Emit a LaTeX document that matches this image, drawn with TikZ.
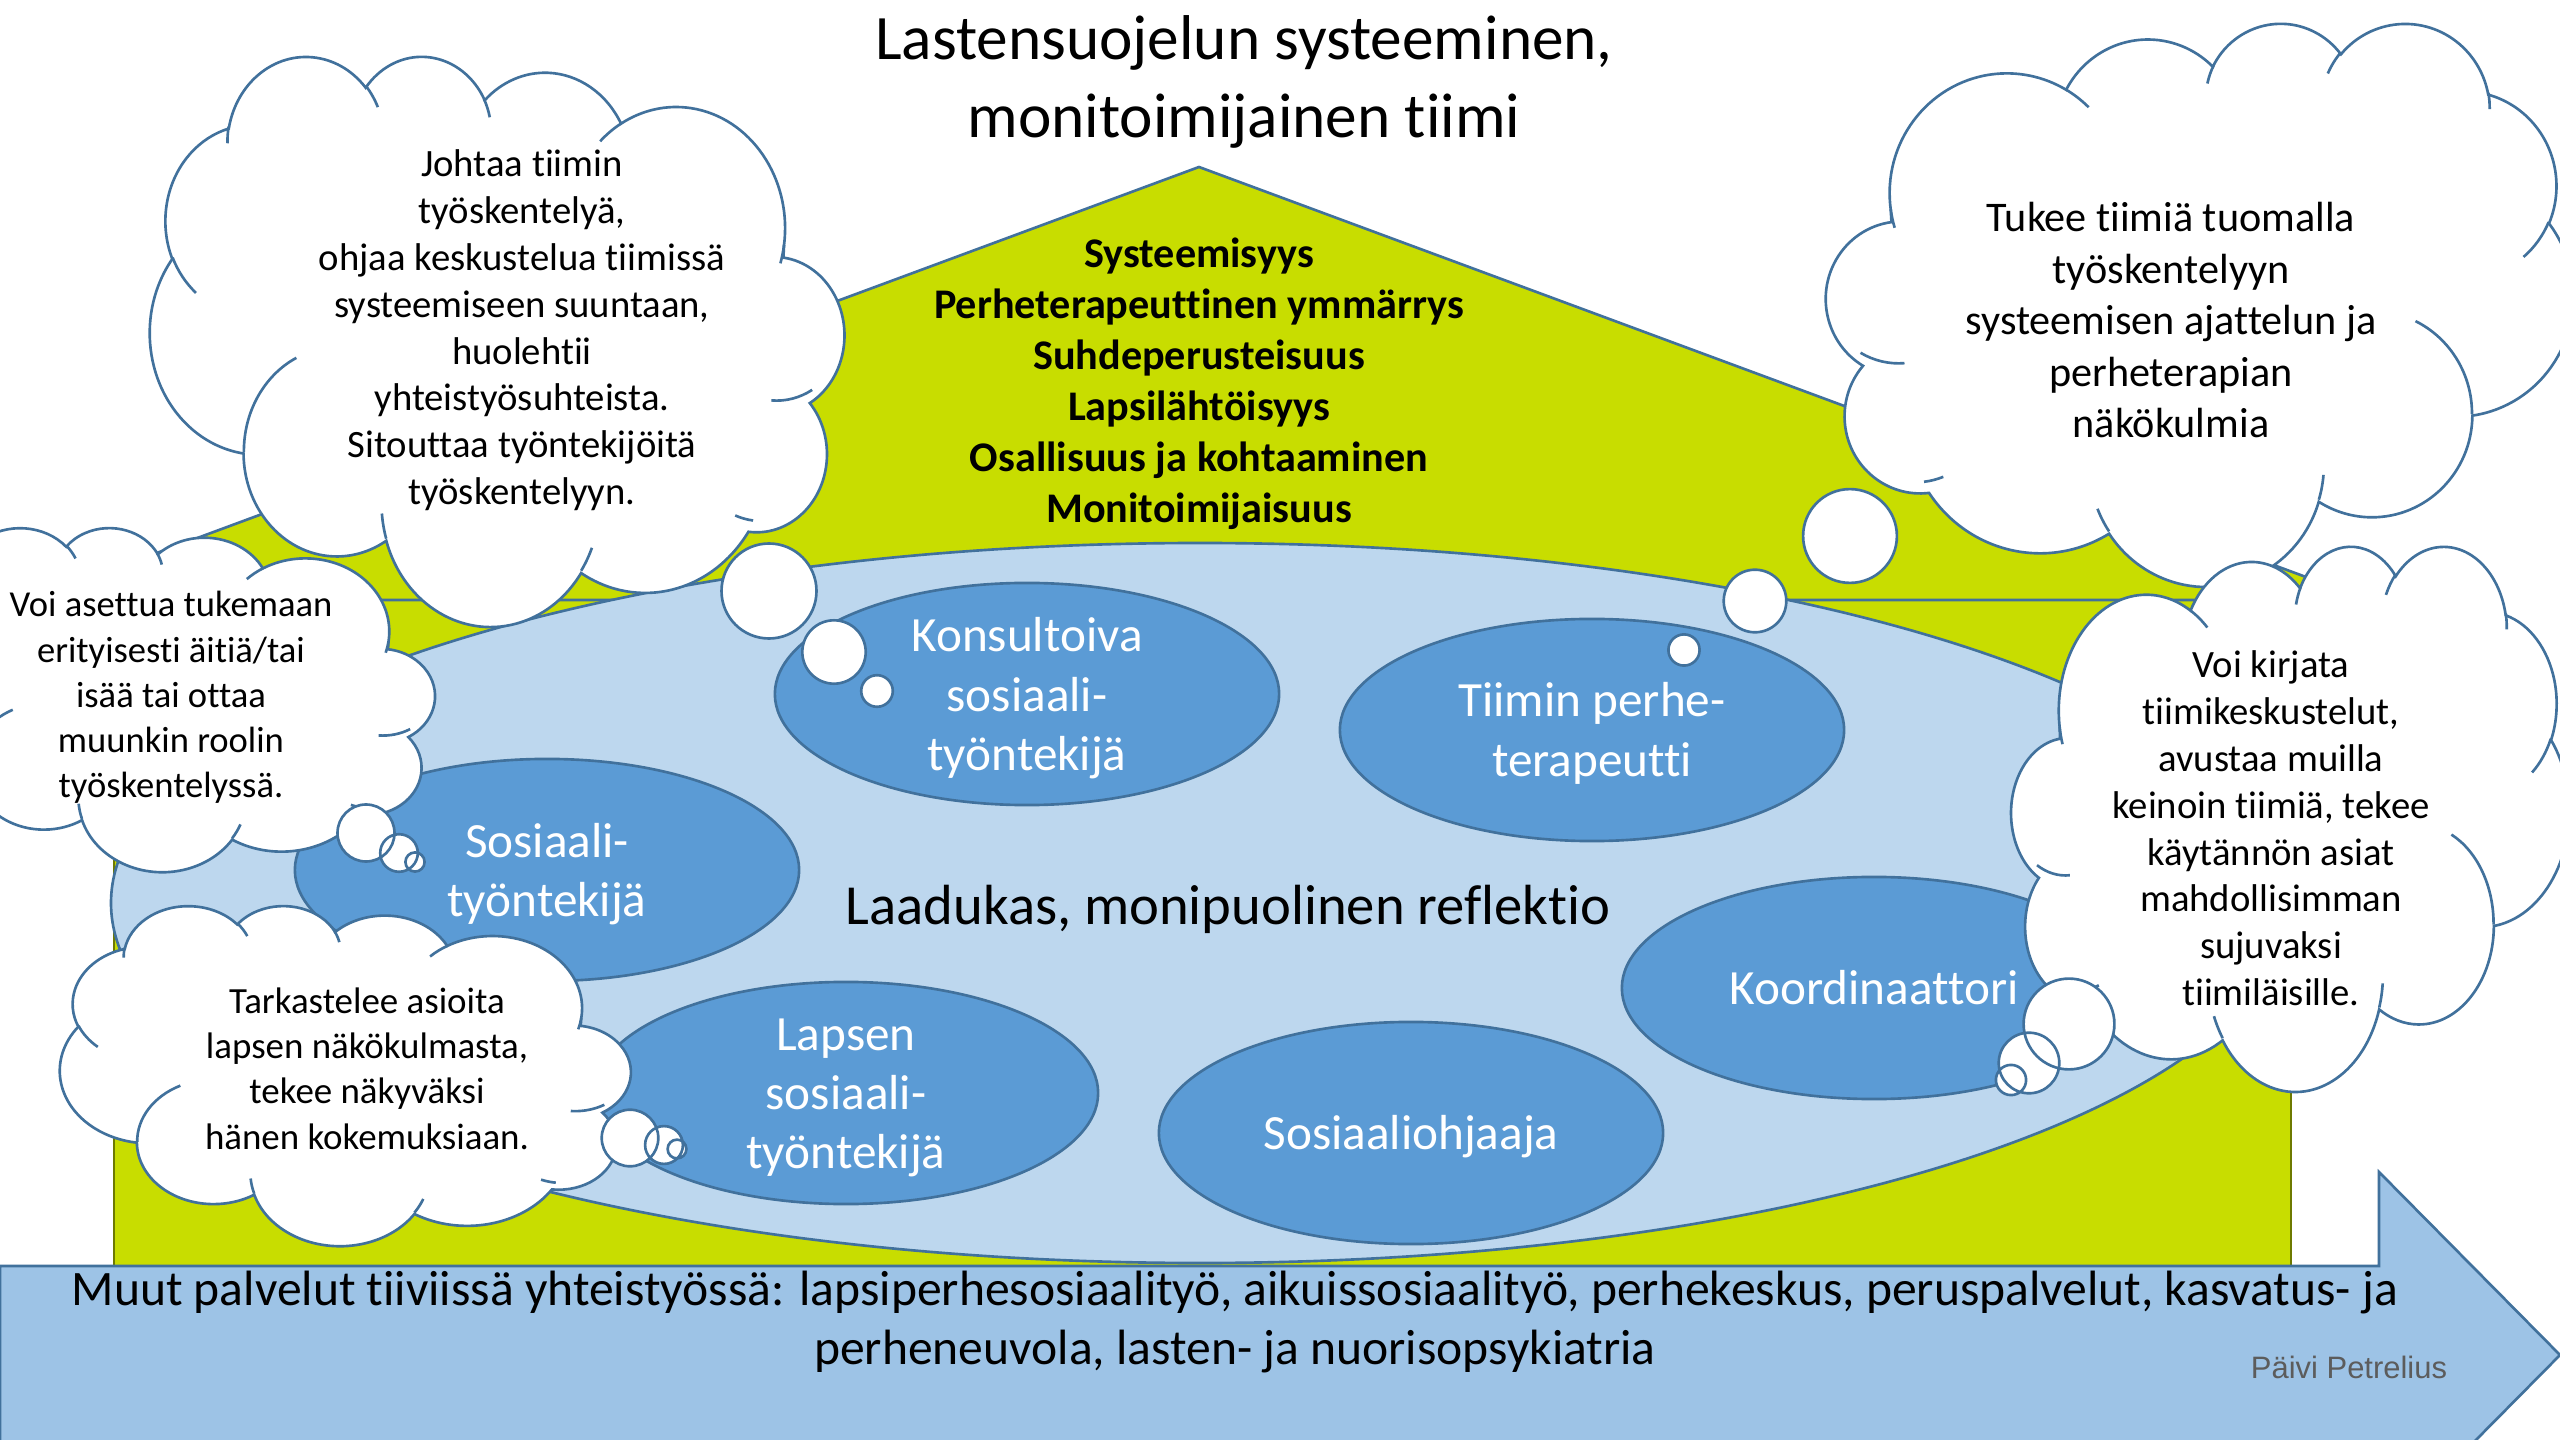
\documentclass[tikz,border=0pt]{standalone}
\usepackage{fontspec}
\setmainfont{Carlito}[Ligatures=NoCommon]
\newfontfamily\signfont{Liberation Sans}
\usetikzlibrary{shapes.geometric}
\definecolor{housegreen}{RGB}{200,221,0}
\definecolor{lightblue}{RGB}{189,215,238}
\definecolor{midblue}{RGB}{91,155,213}
\definecolor{edgeblue}{RGB}{65,113,156}
\definecolor{arrowblue}{RGB}{157,195,230}
\definecolor{graytext}{RGB}{92,92,92}

\newcommand\mlines[1]{\begin{tabular}[t]{@{}c@{}}#1\end{tabular}}

\newcommand\defarc[6]{%
  \pgfmathsetmacro\tmpA{atan2(#3*sin(#5),#4*cos(#5))}%
  \pgfmathsetmacro\tmpB{atan2(#3*sin(#5+#6),#4*cos(#5+#6))}%
  \pgfmathsetmacro\tmpD{mod(\tmpB-\tmpA+720,360)}%
  \expandafter\xdef\csname #1S#2\endcsname{\tmpA}%
  \expandafter\xdef\csname #1D#2\endcsname{\tmpD}%
}
\defarc{cO}{a}{6.753}{9.19}{-190.4875}{123.7805}
\defarc{cO}{b}{5.333}{7.267}{-144.1024}{89.9452}
\defarc{cO}{c}{4.365}{5.945}{-145.8079}{99.723}
\defarc{cO}{d}{4.857}{6.595}{-130.9861}{117.2417}
\defarc{cO}{e}{5.333}{7.273}{-78.7089}{109.0269}
\defarc{cO}{f}{6.775}{9.22}{-46.2673}{130.269}
\defarc{cO}{g}{5.785}{7.867}{0.625}{114.0333}
\defarc{cO}{h}{6.752}{9.215}{22.4516}{115.1726}
\defarc{cO}{i}{7.72}{10.543}{66.2426}{71.0259}
\defarc{cO}{j}{4.36}{5.918}{-274.9421}{144.5662}
\defarc{cO}{k}{4.345}{5.945}{-246.8285}{151.4134}
\defarc{cI}{a}{4.345}{5.945}{86.742}{26.4295}
\defarc{cI}{b}{4.36}{5.918}{73.6105}{11.4475}
\defarc{cI}{c}{6.752}{9.215}{137.6242}{14.0811}
\defarc{cI}{d}{6.752}{9.215}{6.4533}{15.9984}
\defarc{cI}{e}{5.785}{7.867}{-70.2924}{70.9174}
\defarc{cI}{f}{5.333}{7.273}{30.318}{27.7515}
\defarc{cI}{g}{4.857}{6.595}{-13.7443}{14.8589}
\defarc{cI}{h}{4.857}{6.595}{-149.1815}{18.1954}
\defarc{cI}{i}{4.365}{5.945}{-163.4943}{17.6864}
\defarc{cI}{j}{6.753}{9.19}{-66.707}{12.3194}
\defarc{cI}{k}{6.753}{9.19}{157.6544}{11.8582}

\tikzset{
  outl/.style={draw=edgeblue,line width=0.75pt},
  cloudfill/.style={fill=white,outl},
  cloudline/.style={outl},
  darkell/.style={ellipse,fill=midblue,outl,minimum width=5.04cm,minimum height=2.22cm,inner sep=0pt},
  txt/.style={anchor=base,inner sep=0pt,text=black},
  elltxt/.style={txt,text=white,font=\fontsize{14}{16.8}\selectfont},
}

% #1 left x, #2 top y, #3 width, #4 height, #5 = 1 (normal) or -1 (mirrored)
\newcommand\pptcloud[5]{%
 \begin{scope}[shift={({#1+(1-#5)/2*#3},#2)},xscale=#5*#3/43.2,yscale=#4/43.2]
  \path[cloudfill] (3.9,14.37)
   arc[x radius=6.753,y radius=9.19,start angle=\cOSa,delta angle=\cODa]
   arc[x radius=5.333,y radius=7.267,start angle=\cOSb,delta angle=\cODb]
   arc[x radius=4.365,y radius=5.945,start angle=\cOSc,delta angle=\cODc]
   arc[x radius=4.857,y radius=6.595,start angle=\cOSd,delta angle=\cODd]
   arc[x radius=5.333,y radius=7.273,start angle=\cOSe,delta angle=\cODe]
   arc[x radius=6.775,y radius=9.22,start angle=\cOSf,delta angle=\cODf]
   arc[x radius=5.785,y radius=7.867,start angle=\cOSg,delta angle=\cODg]
   arc[x radius=6.752,y radius=9.215,start angle=\cOSh,delta angle=\cODh]
   arc[x radius=7.72,y radius=10.543,start angle=\cOSi,delta angle=\cODi]
   arc[x radius=4.36,y radius=5.918,start angle=\cOSj,delta angle=\cODj]
   arc[x radius=4.345,y radius=5.945,start angle=\cOSk,delta angle=\cODk] -- cycle;
  \path[cloudline] (4.693,26.177) arc[x radius=4.345,y radius=5.945,start angle=\cISa,delta angle=\cIDa]
   (6.928,34.899) arc[x radius=4.36,y radius=5.918,start angle=\cISb,delta angle=\cIDb]
   (16.478,39.09) arc[x radius=6.752,y radius=9.215,start angle=\cISc,delta angle=\cIDc]
   (28.827,34.751) arc[x radius=6.752,y radius=9.215,start angle=\cISd,delta angle=\cIDd]
   (34.129,22.954) arc[x radius=5.785,y radius=7.867,start angle=\cISe,delta angle=\cIDe]
   (41.798,15.354) arc[x radius=5.333,y radius=7.273,start angle=\cISf,delta angle=\cIDf]
   (38.324,5.426) arc[x radius=4.857,y radius=6.595,start angle=\cISg,delta angle=\cIDg]
   (29.078,3.952) arc[x radius=4.857,y radius=6.595,start angle=\cISh,delta angle=\cIDh]
   (22.141,4.72) arc[x radius=4.365,y radius=5.945,start angle=\cISi,delta angle=\cIDi]
   (14,5.192) arc[x radius=6.753,y radius=9.19,start angle=\cISj,delta angle=\cIDj]
   (4.127,15.789) arc[x radius=6.753,y radius=9.19,start angle=\cISk,delta angle=\cIDk];
 \end{scope}}

\newcommand\bubbles[9]{%
  \fill[white] (#1,#2) circle[radius=#3] (#4,#5) circle[radius=#6] (#7,#8) circle[radius=#9];
  \draw[outl] (#1,#2) circle[radius=#3] (#4,#5) circle[radius=#6] (#7,#8) circle[radius=#9];}

\begin{document}
\begin{tikzpicture}[x=0.01cm,y=-0.01cm]
\useasboundingbox (0,0) rectangle (2560,1440);
\clip (0,0) rectangle (2560,1440);
\fill[white] (0,0) rectangle (2560,1440);

% house
\filldraw[fill=housegreen,draw=black!45!housegreen,line width=0.4pt] (114,600) rectangle (2291,1266);
\filldraw[fill=housegreen,outl] (1199,167) -- (2368,600) -- (30,600) -- cycle;
\filldraw[fill=lightblue,outl] (1200,903) ellipse[x radius=1089,y radius=360];

% title
\node[txt,font=\fontsize{18}{21.9}\selectfont] (title) at (1244,60)
  {\mlines{Lastensuojelun systeeminen,\\monitoimijainen tiimi}};

% roof values
\node[txt,font=\fontsize{12}{14.5}\selectfont\bfseries] (values) at (1199,268)
  {\mlines{Systeemisyys\\Perheterapeuttinen ymmärrys\\Suhdeperusteisuus\\Lapsilähtöisyys\\Osallisuus ja kohtaaminen\\Monitoimijaisuus}};

% role ellipses
\node[darkell] (konsult) at (1027,694) {};
\node[darkell] (terap) at (1592,730) {};
\node[darkell] (sostt) at (547,870) {};
\node[darkell] (koord) at (1874,988) {};
\node[darkell] (lapsen) at (846,1093) {};
\node[darkell] (ohjaaja) at (1411,1133) {};
\node[elltxt] (konsult-t) at (1027,652) {\mlines{Konsultoiva\\sosiaali-\\työntekijä}};
\node[elltxt] (terap-t) at (1592,717) {\mlines{Tiimin perhe-\\terapeutti}};
\node[elltxt] (sostt-t) at (547,857) {\mlines{Sosiaali-\\työntekijä}};
\node[elltxt] (koord-t) at (1874,1004) {Koordinaattori};
\node[elltxt] (lapsen-t) at (846,1050) {\mlines{Lapsen\\sosiaali-\\työntekijä}};
\node[elltxt] (ohjaaja-t) at (1411,1149) {Sosiaaliohjaaja};

\node[txt,font=\fontsize{16.1}{19.6}\selectfont] (reflektio) at (1228,924) {Laadukas, monipuolinen reflektio};

% clouds
\pptcloud{150}{55}{697}{570}{-1}
\bubbles{769}{591}{47.5}{834}{652}{31.7}{877}{691}{15.8}
\node[txt,font=\fontsize{11}{13.3}\selectfont] (c1) at (522,177)
  {\mlines{Johtaa tiimin\\työskentelyä,\\ohjaa keskustelua tiimissä\\systeemiseen suuntaan,\\huolehtii\\yhteistyösuhteista.\\Sitouttaa työntekijöitä\\työskentelyyn.}};

\pptcloud{1823}{22}{750}{563}{1}
\bubbles{1850}{536}{46.9}{1755}{601}{31.3}{1684}{650}{15.6}
\node[txt,font=\fontsize{12}{14.6}\selectfont] (c2) at (2171,232)
  {\mlines{Tukee tiimiä tuomalla\\työskentelyyn\\systeemisen ajattelun ja\\perheterapian\\näkökulmia}};

\pptcloud{-100}{527}{537}{344}{-1}
\bubbles{366}{833}{28.5}{399}{853}{18.8}{415}{862}{9.6}
\node[txt,font=\fontsize{10.4}{12.8}\selectfont] (c3) at (171,617)
  {\mlines{Voi asettua tukemaan\\erityisesti äitiä/tai\\isää tai ottaa\\muunkin roolin\\työskentelyssä.}};

\pptcloud{60}{905}{573}{340}{-1}
\bubbles{630}{1138}{28.3}{664}{1145}{18.9}{677}{1149}{9.4}
\node[txt,font=\fontsize{10.5}{12.9}\selectfont] (c4) at (367,1013)
  {\mlines{Tarkastelee asioita\\lapsen näkökulmasta,\\tekee näkyväksi\\hänen kokemuksiaan.}};

\pptcloud{2009}{545}{560}{545}{1}
\bubbles{2069}{1024}{45.4}{2029}{1063}{30.3}{2011}{1080}{15.1}
\node[txt,font=\fontsize{11}{13.3}\selectfont] (c5) at (2271,678)
  {\mlines{Voi kirjata\\tiimikeskustelut,\\avustaa muilla\\keinoin tiimiä, tekee\\käytännön asiat\\mahdollisimman\\sujuvaksi\\tiimiläisille.}};

% bottom arrow
\filldraw[fill=arrowblue,outl] (0,1266) -- (2379,1266) -- (2379,1172) -- (2560,1355) -- (2379,1538) -- (2379,1444) -- (0,1444) -- cycle;
\node[txt,font=\fontsize{14.1}{16.9}\selectfont] (muut) at (1235,1305)
  {\mlines{Muut palvelut tiiviissä yhteistyössä: lapsiperhesosiaalityö, aikuissosiaalityö, perhekeskus, peruspalvelut, kasvatus- ja\\perheneuvola, lasten- ja nuorisopsykiatria}};
\node[txt,text=graytext,font=\signfont\fontsize{8.8}{10.6}\selectfont] (author) at (2349,1378) {Päivi Petrelius};
\end{tikzpicture}
\end{document}
